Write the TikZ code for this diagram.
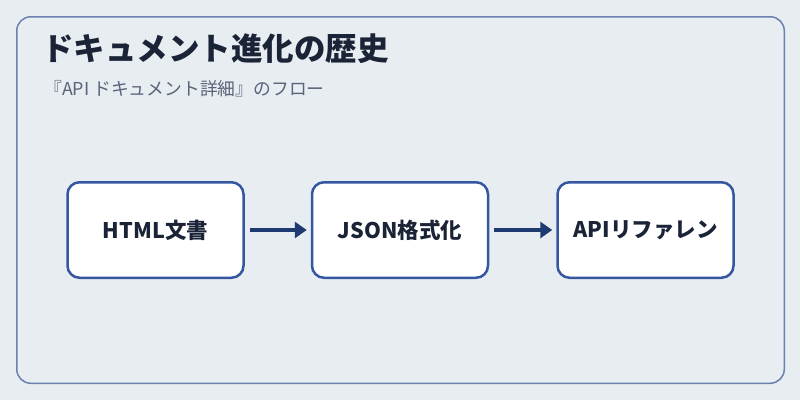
\documentclass[tikz,border=0pt]{standalone}
\usepackage{fontspec}
\setmainfont{Noto Sans CJK JP}
\usetikzlibrary{arrows.meta}
\usepackage{xcolor}
\definecolor{pagebg}{HTML}{E8EDF2}
\definecolor{framegray}{HTML}{6A82AD}
\definecolor{boxblue}{HTML}{3457A0}
\definecolor{arrownavy}{HTML}{1F3A70}
\definecolor{titleink}{HTML}{1A2436}
\definecolor{subink}{HTML}{5A6478}
\tikzset{
    frame/.style={draw=framegray, line width=1.5pt, rounded corners=14pt},
    stage/.style={draw=boxblue, line width=2.5pt, fill=white, rounded corners=12pt,
        minimum width=176pt, minimum height=95.5pt, inner sep=0pt,
        text=titleink, font=\bfseries\fontsize{21.5}{26}\selectfont},
    flow/.style={draw=arrownavy, line width=3.5pt, shorten <=5pt, shorten >=4pt,
        -{Triangle[length=12pt, width=16pt]}},
    heading/.style={anchor=base west, inner sep=0pt, text=titleink,
        font=\bfseries\fontsize{31.5}{38}\selectfont},
    subheading/.style={anchor=base west, inner sep=0pt, text=subink,
        font=\fontsize{17.8}{21}\selectfont}
}

\begin{document}
\begin{tikzpicture}[x=1pt, y=-1pt]
    \fill[pagebg] (0,0) rectangle (800,400);
    \useasboundingbox (0,0) rectangle (800,400);
    \draw[frame] (16.75,16.75) rectangle (784.25,383.25);
    \node[heading] (title) at (42,60) {ドキュメント進化の歴史};
    \node[subheading] (subtitle) at (44,95) {『API ドキュメント詳細』のフロー};
    \node[stage] (html) at (155.5,230) {HTML文書};
    \node[stage] (json) at (400,230) {JSON格式化};
    \node[stage] (apiref) at (645.5,230) {APIリファレン};
    \draw[flow] (html) -- (json);
    \draw[flow] (json) -- (apiref);
\end{tikzpicture}
\end{document}
